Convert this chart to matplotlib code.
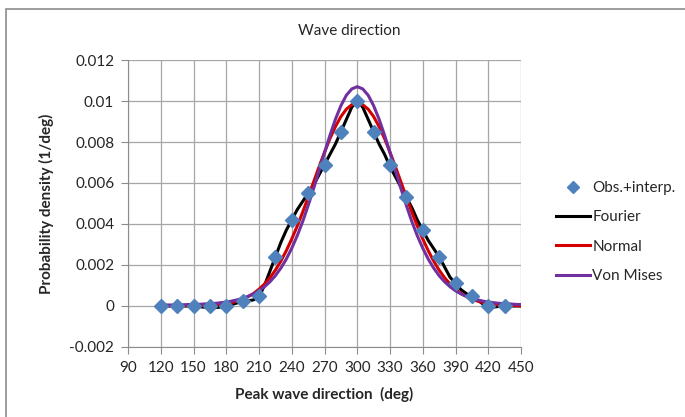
import matplotlib
matplotlib.use("Agg")
import matplotlib.pyplot as plt
from matplotlib.patches import Rectangle
from matplotlib.ticker import FuncFormatter

plt.rcParams['font.family'] = ['Lato', 'DejaVu Sans']

# observed + interpolated densities
obs_deg = [120, 135, 150, 165, 180, 195, 210, 225, 240, 255, 270,
           285, 300, 315, 330, 345, 360, 375, 390, 405, 420, 435]
obs_pdf = [0.0, 0.0, 0.0, 0.0, 0.0, 0.00026, 0.0005, 0.0024, 0.0042, 0.0055, 0.0069,
           0.0085, 0.0100, 0.0085, 0.0069, 0.0053, 0.0037, 0.0024, 0.0011, 0.0005, 0.0, 0.0]

# fitted curves, 5 deg step from 120 to 450
fit_deg = list(range(120, 455, 5))
fourier_pdf = [0.0, 0.0, 0.0, 0.0, 0.0, 0.0, 0.0, -0.00003, -0.00006, -0.00008,
               -0.00008, -0.00005, 0.0, 0.00007, 0.00015, 0.0002, 0.00025, 0.0003,
               0.00045, 0.0010, 0.0017, 0.0024, 0.0031, 0.0037, 0.0042, 0.0047,
               0.0051, 0.0055, 0.0059, 0.0064, 0.0069, 0.0074, 0.0079, 0.0085,
               0.0091, 0.0097, 0.0100, 0.0097, 0.0091, 0.0085, 0.0079, 0.0074,
               0.0068, 0.0063, 0.0058, 0.0053, 0.0048, 0.0042, 0.0037, 0.0032,
               0.0028, 0.0024, 0.0019, 0.0014, 0.0011, 0.0008, 0.0006, 0.0005,
               0.0003, 0.0001, -0.00003, -0.00005, -0.00002, 0.0, 0.0, 0.0, 0.0]
normal_pdf = [0.00001, 0.00001, 0.00001, 0.00001, 0.00001, 0.00001, 0.00001,
              0.00002, 0.00002, 0.00004, 0.00005, 0.00008, 0.00012, 0.00017,
              0.00024, 0.00033, 0.00046, 0.00061, 0.00082, 0.00107, 0.00138,
              0.00175, 0.00219, 0.0027, 0.00327, 0.0039, 0.00458, 0.00531,
              0.00605, 0.00679, 0.0075, 0.00817, 0.00875, 0.00924, 0.0096,
              0.00982, 0.0099, 0.00982, 0.0096, 0.00924, 0.00875, 0.00817,
              0.0075, 0.00679, 0.00605, 0.00531, 0.00458, 0.0039, 0.00327,
              0.0027, 0.00219, 0.00175, 0.00138, 0.00107, 0.00082, 0.00061,
              0.00046, 0.00033, 0.00024, 0.00017, 0.00012, 0.00008, 0.00005,
              0.00004, 0.00002, 0.00002, 0.00001]
vonmises_pdf = [0.00005, 0.00005, 0.00005, 0.00006, 0.00006, 0.00007, 0.00007,
                0.00008, 0.0001, 0.00011, 0.00013, 0.00016, 0.00019, 0.00024,
                0.0003, 0.00037, 0.00047, 0.00059, 0.00074, 0.00094, 0.00118,
                0.00148, 0.00185, 0.00229, 0.00282, 0.00343, 0.00412, 0.0049,
                0.00573, 0.0066, 0.00748, 0.00833, 0.00911, 0.00977, 0.01028,
                0.01059, 0.0107, 0.01059, 0.01028, 0.00977, 0.00911, 0.00833,
                0.00748, 0.0066, 0.00573, 0.0049, 0.00412, 0.00343, 0.00282,
                0.00229, 0.00185, 0.00148, 0.00118, 0.00094, 0.00074, 0.00059,
                0.00047, 0.00037, 0.0003, 0.00024, 0.00019, 0.00016, 0.00013,
                0.00011, 0.0001, 0.00008, 0.00007]

x_ticks = list(range(90, 451, 30))
y_ticks = [-0.002, 0, 0.002, 0.004, 0.006, 0.008, 0.01, 0.012]

fig = plt.figure(figsize=(6.85, 4.17), dpi=100)
ax = fig.add_axes([0.1869, 0.1679, 0.5737, 0.6882])

# chart frame (left and top edges only show)
fig.patches.append(Rectangle((6 / 685, -0.5), 2, 1.5 - 9 / 417,
                             transform=fig.transFigure, fill=False,
                             edgecolor='#8c8c8c', linewidth=1.2))

ax.plot(fit_deg, fourier_pdf, color='black', lw=2.2, label='Fourier', zorder=3)
ax.plot(fit_deg, normal_pdf, color='#d40000', lw=2.2, label='Normal', zorder=3)
ax.plot(fit_deg, vonmises_pdf, color='#7030a0', lw=2.2, label='Von Mises', zorder=3)
ax.plot(obs_deg, obs_pdf, linestyle='none', marker='D', markersize=7.5,
        color='#4f81bd', label='Obs.+interp.', zorder=4)

ax.set_xlim(90, 450)
ax.set_ylim(-0.002, 0.012)
ax.set_xticks(x_ticks)
ax.set_yticks(y_ticks)
ax.yaxis.set_major_formatter(FuncFormatter(lambda v, p: '%g' % round(v, 4)))
ax.grid(True, color='#a6a6a6', linewidth=0.9)
ax.set_axisbelow(True)
for side in ['top', 'right']:
    ax.spines[side].set_visible(False)
for side in ['left', 'bottom']:
    ax.spines[side].set_color('#8c8c8c')
ax.tick_params(colors='#8c8c8c', labelcolor='#262626', labelsize=11, length=5, pad=5)

ax.set_xlabel('Peak wave direction  (deg)', fontsize=11, fontweight='bold',
              color='#262626', labelpad=9)
ax.set_ylabel('Probability density (1/deg)', fontsize=11, fontweight='bold',
              color='#262626', labelpad=11)
fig.text(349 / 685, 1 - 31 / 417, 'Wave direction', ha='center', va='center',
         fontsize=11, color='#262626')

# legend sits at the vertical middle of the whole figure
handles, labels = ax.get_legend_handles_labels()
order = [3, 0, 1, 2]
leg = ax.legend([handles[i] for i in order], [labels[i] for i in order],
                loc='center left', bbox_to_anchor=(0.792, 1 - 232 / 417),
                bbox_transform=fig.transFigure, frameon=False,
                fontsize=11, handlelength=2.2, handletextpad=0.15,
                labelspacing=1.0, labelcolor='#262626', markerscale=0.8)

fig.savefig('out.png', dpi=100)
